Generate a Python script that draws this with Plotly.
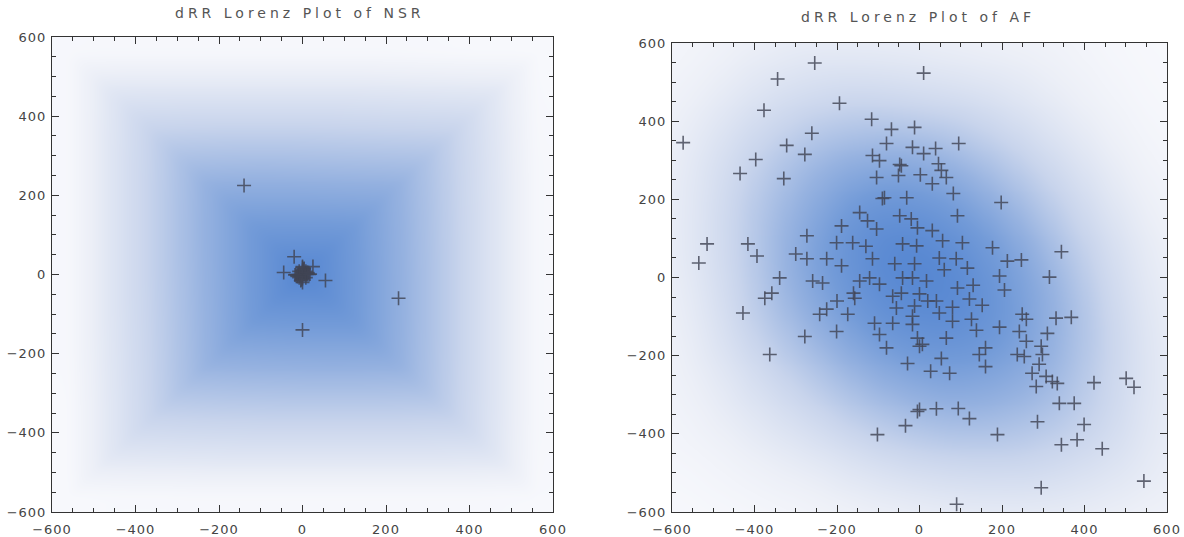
import numpy as np
import plotly.graph_objects as go

# ---------------- data ----------------
nsr_x = [0, 5, -5, 10, -10, 16, -16, 0, 0, 0, 0, 8, -8, 8, -8, 4, -4, 13, -13, 3,
         -3, 7, -7, 0, 12, -12, 18, -18, 0, 0, -140, 230, 0, -20, 55, -45, 25]
nsr_y = [0, 0, 0, 0, 0, 0, 0, 5, -5, 10, -10, 8, 8, -8, -8, 15, -15, 3, -3, 13,
         -13, 4, -4, 18, 5, -5, 1, -1, 20, -20, 225, -60, -140, 45, -15, 5, 20]

af_x = [-254, -344, -377, -194, -116, -68, -12, -573, -261, -322, -278, -397, -435, -329,
        -80, -114, -97, -48, -51, -17, -104, -85, -31,
        10, 39, 10, 95, -44, 46, 2, 53, 31, 65, 82,
        -515, -535, -416, -394, -339, -358, -375, -428, -273, -273, -259, -235, -242, -225,
        -278, -201, -201, -189, -225, -189, -174, -145, -126, -90, -104, -48, -114, -60,
        -145, -121, -97, -157, -65, -56, -17, -109, -65, -97, -162, -17,
        198, 92, -5, 31, 56, 104, -41, -7, 177, 344, 48, 89, 213, 247, -12, 116, 194, 315,
        -41, 17, 92, 206, -44, 0, 121, 41, 152, 80, -12, 48, -17, 249, 259, 331, 368, 80,
        126, 194, 138, 242, 310, 259, -5, 65, 295, 7,
        -363, -29, -5, -34, -102,
        0, 53, 27, 73, 145, 160, 237, 254, 298, 290, 273, 307, 322, 334, 283, 423, 501, 520,
        339, 375, 286, 399, 0, 41, 94, 121, 189, 344, 382, 443, 544, 295, 90,
        -300, -160, -20, 130, 60, -130, -80, 20, -200, 160]
af_y = [549, 508, 428, 446, 405, 379, 384, 345, 369, 338, 315, 302, 266, 253,
        343, 312, 299, 289, 261, 333, 256, 204, 204,
        523, 330, 317, 343, 286, 291, 263, 274, 240, 256, 215,
        86, 37, 86, 55, -1, -40, -53, -91, 107, 48, -9, -14, -94, -81,
        -151, -138, 89, 132, 48, 30, -94, 166, 145, 202, 124, 158, 48, 35,
        -9, -1, -17, -53, -48, -78, -1, -117, -117, -146, 89, -120,
        192, 158, 127, 120, 94, 89, 86, 81, 76, 66, 50, 48, 42, 45, 35, 24, 4, 1,
        -1, -9, -27, -32, -40, -42, -55, -60, -71, -76, -73, -91, -99, -94, -107, -104, -102, -112,
        -107, -127, -135, -138, -143, -163, -155, -155, -176, -171,
        -197, -220, -343, -379, -402,
        -176, -207, -240, -245, -197, -228, -197, -202, -197, -222, -245, -253, -266, -271, -279, -269, -258, -281,
        -322, -322, -369, -376, -338, -336, -335, -361, -402, -428, -415, -438, -521, -538, -580,
        60, -40, 150, -20, 20, 80, -180, -60, -60, -180]

tick_vals = [-600, -400, -200, 0, 200, 400, 600]
titles = ["dRR Lorenz Plot of NSR", "dRR Lorenz Plot of AF"]

# ---------------- background density (square kernel from the data) ----------------
grid = np.linspace(-600, 600, 161)


def square_density(xs, ys, h):
    gx = grid[None, :, None]
    gy = grid[:, None, None]
    px = np.asarray(xs, float)[None, None, :]
    py = np.asarray(ys, float)[None, None, :]
    d = np.maximum(np.abs(gx - px), np.abs(gy - py))
    z = np.clip(1 - d / h, 0, None).sum(axis=2)
    return z / z.max()


z_nsr = square_density(nsr_x, nsr_y, 560)
z_af = square_density(af_x, af_y, 560) ** 1.3

cscale = [[0.0, "rgb(247,248,252)"], [0.1, "rgb(236,239,247)"], [0.35, "rgb(200,212,236)"],
          [0.6, "rgb(150,178,224)"], [0.8, "rgb(115,155,216)"], [1.0, "rgb(88,136,210)"]]

fig = go.Figure()
for z, ax in [(z_nsr, ""), (z_af, "2")]:
    fig.add_trace(go.Heatmap(x=grid, y=grid, z=z, colorscale=cscale, zmin=0, zmax=1,
                             zsmooth="best", showscale=False, hoverinfo="skip",
                             xaxis="x" + ax, yaxis="y" + ax))

marker = dict(symbol="cross-thin", size=10, color="rgba(65,68,84,0.82)",
              line=dict(width=1.6, color="rgba(65,68,84,0.82)"))
fig.add_trace(go.Scatter(x=nsr_x, y=nsr_y, mode="markers", marker=marker,
                         xaxis="x", yaxis="y", showlegend=False))
fig.add_trace(go.Scatter(x=af_x, y=af_y, mode="markers", marker=marker,
                         xaxis="x2", yaxis="y2", showlegend=False))

tick_font = dict(family="DejaVu Sans", size=13, color="#444")
axis_common = dict(range=[-600, 600], tickvals=tick_vals, ticks="inside", ticklen=7,
                   tickcolor="#333", tickwidth=1, showline=True, linecolor="#333",
                   linewidth=1, mirror="allticks", showgrid=False, zeroline=False,
                   automargin=False,
                   minor=dict(dtick=50, ticks="inside", ticklen=4, tickcolor="#333"),
                   tickfont=tick_font)

fig.update_layout(
    width=1184, height=537, margin=dict(l=0, r=0, t=0, b=0, autoexpand=False),
    paper_bgcolor="white", plot_bgcolor="white", showlegend=False,
    xaxis=dict(domain=[52 / 1184, 553 / 1184], anchor="y", ticklabelstandoff=5, **axis_common),
    yaxis=dict(domain=[25 / 537, 500 / 537], anchor="x", ticklabelstandoff=2, **axis_common),
    xaxis2=dict(domain=[672 / 1184, 1167 / 1184], anchor="y2", ticklabelstandoff=5, **axis_common),
    yaxis2=dict(domain=[25 / 537, 494 / 537], anchor="x2", ticklabelstandoff=2, **axis_common),
    annotations=[
        dict(text=titles[0], x=300 / 1184, y=(537 - 13) / 537, xref="paper", yref="paper",
             showarrow=False, xanchor="center", yanchor="middle",
             font=dict(family="DejaVu Sans", size=14, color="#555")),
        dict(text=titles[1], x=918 / 1184, y=(537 - 17) / 537, xref="paper", yref="paper",
             showarrow=False, xanchor="center", yanchor="middle",
             font=dict(family="DejaVu Sans", size=14, color="#555")),
    ],
)

css = (".annotation-text{letter-spacing:4px}"
       ".xaxislayer-above text,.yaxislayer-above text{letter-spacing:1px}")
fig.write_html(
    "out.html",
    config={"displayModeBar": False},
    post_script=("document.body.style.margin='0px';document.body.style.overflow='hidden';"
                 "var s=document.createElement('style');s.innerHTML='" + css + "';"
                 "document.head.appendChild(s);"),
)
